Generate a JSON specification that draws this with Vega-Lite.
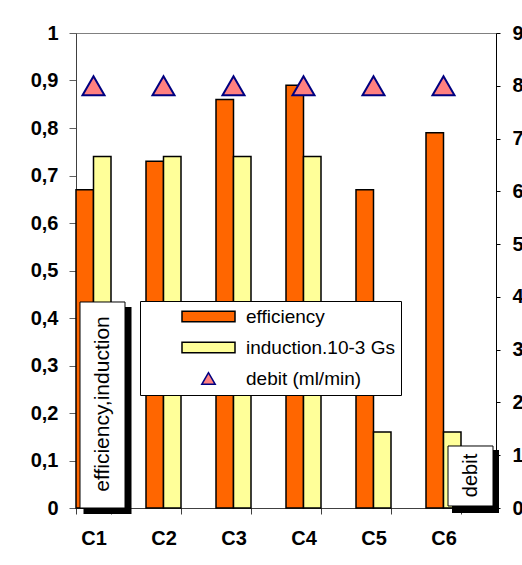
{
  "$schema": "https://vega.github.io/schema/vega-lite/v6.json",
  "width": 420,
  "height": 475,
  "autosize": {"type": "none"},
  "padding": {"left": 76, "top": 33, "right": 26, "bottom": 57},
  "background": "white",
  "config": {
    "font": "Liberation Sans",
    "view": {"stroke": "#808080", "strokeWidth": 1},
    "axis": {"grid": false, "title": null, "labelFont": "Liberation Sans", "labelFontWeight": "bold", "labelFontSize": 20, "labelColor": "black"}
  },
  "data": {
    "values": [
      {"cat": "C1", "series": "efficiency", "value": 0.67},
      {"cat": "C1", "series": "induction.10-3 Gs", "value": 0.74},
      {"cat": "C1", "series": "debit (ml/min)", "value": 8},
      {"cat": "C2", "series": "efficiency", "value": 0.73},
      {"cat": "C2", "series": "induction.10-3 Gs", "value": 0.74},
      {"cat": "C2", "series": "debit (ml/min)", "value": 8},
      {"cat": "C3", "series": "efficiency", "value": 0.86},
      {"cat": "C3", "series": "induction.10-3 Gs", "value": 0.74},
      {"cat": "C3", "series": "debit (ml/min)", "value": 8},
      {"cat": "C4", "series": "efficiency", "value": 0.89},
      {"cat": "C4", "series": "induction.10-3 Gs", "value": 0.74},
      {"cat": "C4", "series": "debit (ml/min)", "value": 8},
      {"cat": "C5", "series": "efficiency", "value": 0.67},
      {"cat": "C5", "series": "induction.10-3 Gs", "value": 0.16},
      {"cat": "C5", "series": "debit (ml/min)", "value": 8},
      {"cat": "C6", "series": "efficiency", "value": 0.79},
      {"cat": "C6", "series": "induction.10-3 Gs", "value": 0.16},
      {"cat": "C6", "series": "debit (ml/min)", "value": 8}
    ]
  },
  "encoding": {
    "x": {
      "field": "cat", "type": "nominal",
      "scale": {"paddingInner": 0.5, "paddingOuter": 0.25, "align": 0},
      "axis": {"labelAngle": 0, "tickBand": "extent", "tickSize": 6, "tickColor": "#404040", "domainColor": "#404040", "labelPadding": 14}
    }
  },
  "layer": [
    {
      "layer": [
        {
          "transform": [{"filter": "datum.series !== 'debit (ml/min)'"}],
          "mark": {"type": "bar", "stroke": "black", "strokeWidth": 1.5},
          "encoding": {
            "xOffset": {"field": "series", "type": "nominal", "scale": {"domain": ["efficiency", "induction.10-3 Gs"], "paddingInner": 0, "paddingOuter": 0}},
            "y": {
              "field": "value", "type": "quantitative",
              "scale": {"domain": [0, 1], "nice": false},
              "axis": {"orient": "left", "values": [0, 0.1, 0.2, 0.3, 0.4, 0.5, 0.6, 0.7, 0.8, 0.9, 1], "labelExpr": "replace(format(datum.value, '~g'), '.', ',')", "tickSize": 7, "tickColor": "#606060", "domainColor": "#404040", "labelPadding": 11}
            },
            "fill": {
              "field": "series", "type": "nominal",
              "scale": {"domain": ["efficiency", "induction.10-3 Gs", "debit (ml/min)"], "range": ["#FF6600", "#FFFF99", "#FF8080"]},
              "legend": {
                "orient": "none", "legendX": 64, "legendY": 268, "title": null,
                "strokeColor": "black", "fillColor": "white", "padding": 6,
                "labelFont": "Liberation Sans", "labelFontSize": 19, "labelColor": "black",
                "symbolSize": 180, "symbolStrokeWidth": 1.5, "symbolStrokeColor": "black",
                "symbolOffset": 53, "labelOffset": 28, "rowPadding": 11,
                "encode": {
                  "symbols": {
                    "update": {
                      "shape": {"signal": "datum.index === 2 ? 'triangle-up' : 'M-3.95,-0.79H3.95V0.79H-3.95Z'"},
                      "stroke": {"signal": "datum.index === 2 ? '#000080' : 'black'"}
                    }
                  }
                }
              }
            }
          }
        },
        {
          "transform": [{"filter": "datum.cat === 'C1' && datum.series === 'efficiency'"}],
          "mark": {"type": "bar", "fill": "black", "width": 48, "xOffset": 14},
          "encoding": {"y": {"datum": 0.4232}, "y2": {"datum": -0.0126}}
        },
        {
          "transform": [{"filter": "datum.cat === 'C1' && datum.series === 'efficiency'"}],
          "mark": {"type": "bar", "fill": "white", "stroke": "black", "strokeWidth": 1, "width": 45, "xOffset": 9},
          "encoding": {"y": {"datum": 0.4337}, "y2": {"datum": 0}}
        },
        {
          "transform": [{"filter": "datum.cat === 'C1' && datum.series === 'efficiency'"}],
          "mark": {"type": "text", "text": "efficiency,induction", "angle": 270, "align": "center", "baseline": "middle", "fontSize": 21, "font": "Liberation Sans", "color": "black", "xOffset": 9},
          "encoding": {"y": {"datum": 0.219}}
        }
      ]
    },
    {
      "layer": [
        {
          "transform": [{"filter": "datum.series === 'debit (ml/min)'"}],
          "mark": {"type": "point", "shape": "triangle-up", "size": 484, "filled": true, "fill": "#FF8080", "stroke": "#000080", "strokeWidth": 2, "opacity": 1},
          "encoding": {
            "y": {
              "field": "value", "type": "quantitative",
              "scale": {"domain": [0, 9], "nice": false},
              "axis": {"orient": "right", "values": [0, 1, 2, 3, 4, 5, 6, 7, 8, 9], "format": "d", "tickSize": 4, "tickColor": "black", "domainColor": "black", "labelPadding": 12}
            }
          }
        },
        {
          "transform": [{"filter": "datum.cat === 'C6' && datum.series === 'debit (ml/min)'"}],
          "mark": {"type": "bar", "fill": "black", "width": 47, "xOffset": 32},
          "encoding": {"y": {"datum": 1.099}, "y2": {"datum": -0.095}}
        },
        {
          "transform": [{"filter": "datum.cat === 'C6' && datum.series === 'debit (ml/min)'"}],
          "mark": {"type": "bar", "fill": "white", "stroke": "black", "strokeWidth": 1, "width": 45, "xOffset": 27},
          "encoding": {"y": {"datum": 1.175}, "y2": {"datum": 0.038}}
        },
        {
          "transform": [{"filter": "datum.cat === 'C6' && datum.series === 'debit (ml/min)'"}],
          "mark": {"type": "text", "text": "debit", "angle": 270, "align": "center", "baseline": "middle", "fontSize": 20, "font": "Liberation Sans", "color": "black", "xOffset": 27},
          "encoding": {"y": {"datum": 0.616}}
        }
      ]
    }
  ],
  "resolve": {"scale": {"y": "independent"}}
}
